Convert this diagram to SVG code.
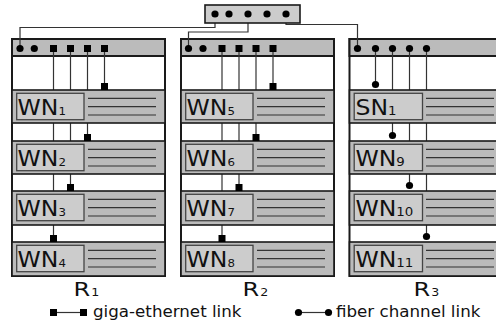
<svg xmlns="http://www.w3.org/2000/svg" width="496" height="324" viewBox="0 0 496 324">
<style>
.rack{fill:#fff;stroke:#1a1a1a;stroke-width:2}
.hdr{fill:#bbb;stroke:#1a1a1a;stroke-width:2}
.band{fill:#bbb;stroke:#1a1a1a;stroke-width:1.6}
.lbl{fill:#ccc;stroke:#444;stroke-width:1.3}
.ln{stroke:#333;stroke-width:1.2}
.wire{fill:none;stroke:#333;stroke-width:1.2}
.sq{fill:#000}
.dot{fill:#000}
.t{font-family:"DejaVu Sans",sans-serif;fill:#111}
.nm{font-size:22px}
.sub{font-size:11px}
.sub3{font-size:12.5px}
.rk{font-size:20px}
.rsub{font-size:10.5px}
.lg{font-size:16.7px}
.sw{fill:#ccc;stroke:#1a1a1a;stroke-width:1.6}
</style>
<defs>
<rect id="s" class="sq" x="-3.5" y="-3.5" width="7" height="7"/>
<circle id="c" class="dot" r="3.6"/>
<g id="lines"><line class="ln" x1="0" y1="8.3" x2="68" y2="8.3"/><line class="ln" x1="0" y1="16.7" x2="68" y2="16.7"/><line class="ln" x1="0" y1="25" x2="68" y2="25"/></g>
</defs>

<!-- rack frames -->
<g id="rack1"><rect class="rack" x="12" y="39" width="153" height="237"/><rect class="hdr" x="12" y="39" width="153" height="17"/></g>
<g id="rack2"><rect class="rack" x="181" y="39" width="153" height="237"/><rect class="hdr" x="181" y="39" width="153" height="17"/></g>
<g id="rack3"><rect class="rack" x="349.5" y="39" width="153" height="237"/><rect class="hdr" x="349.5" y="39" width="153" height="17"/></g>

<!-- connectors -->
<g id="connectors">
<polyline class="wire" points="215,14 215,27.5 20,27.5 20,48.5"/>
<polyline class="wire" points="248,14 248,32 188.5,32 188.5,48.5"/>
<polyline class="wire" points="286,14 286,24.5 357.5,24.5 357.5,48.5"/>
<line class="wire" x1="53.5" y1="48.5" x2="53.5" y2="238.5"/>
<line class="wire" x1="70.5" y1="48.5" x2="70.5" y2="187.5"/>
<line class="wire" x1="87.5" y1="48.5" x2="87.5" y2="137.5"/>
<line class="wire" x1="104.5" y1="48.5" x2="104.5" y2="86.5"/>
<line class="wire" x1="222" y1="48.5" x2="222" y2="238.5"/>
<line class="wire" x1="239" y1="48.5" x2="239" y2="187.5"/>
<line class="wire" x1="256" y1="48.5" x2="256" y2="137.5"/>
<line class="wire" x1="273" y1="48.5" x2="273" y2="86.5"/>
<line class="wire" x1="375.5" y1="48.5" x2="375.5" y2="84.5"/>
<line class="wire" x1="392.5" y1="48.5" x2="392.5" y2="135.5"/>
<line class="wire" x1="409.5" y1="48.5" x2="409.5" y2="185.5"/>
<line class="wire" x1="426.5" y1="48.5" x2="426.5" y2="236.5"/>
<line class="wire" x1="57" y1="312.5" x2="80" y2="312.5"/>
<line class="wire" x1="298.5" y1="312.5" x2="328.5" y2="312.5"/>
</g>

<!-- switch -->
<g id="switch">
<rect class="sw" x="205" y="5" width="95" height="18"/>
<use href="#c" x="215" y="14"/><use href="#c" x="229" y="14"/><use href="#c" x="248" y="14"/><use href="#c" x="267" y="14"/><use href="#c" x="286" y="14"/>
</g>

<!-- nodes rack 1 -->
<g id="WN1"><rect class="band" x="12" y="90" width="153" height="33"/><rect class="lbl" x="16.7" y="93.3" width="67.3" height="26.4"/><use href="#lines" x="88" y="90"/><text class="t nm" transform="translate(17.6,114.7) scale(1.07,1)">WN<tspan class="sub">1</tspan></text></g>
<g id="WN2"><rect class="band" x="12" y="141" width="153" height="33"/><rect class="lbl" x="16.7" y="144.3" width="67.3" height="26.4"/><use href="#lines" x="88" y="141"/><text class="t nm" transform="translate(17.6,165.7) scale(1.07,1)">WN<tspan class="sub">2</tspan></text></g>
<g id="WN3"><rect class="band" x="12" y="191" width="153" height="34"/><rect class="lbl" x="16.7" y="194.3" width="67.3" height="26.4"/><use href="#lines" x="88" y="191"/><text class="t nm" transform="translate(17.6,215.7) scale(1.07,1)">WN<tspan class="sub">3</tspan></text></g>
<g id="WN4"><rect class="band" x="12" y="242" width="153" height="34"/><rect class="lbl" x="16.7" y="245.3" width="67.3" height="26.4"/><use href="#lines" x="88" y="242"/><text class="t nm" transform="translate(17.6,266.7) scale(1.07,1)">WN<tspan class="sub">4</tspan></text></g>
<!-- nodes rack 2 -->
<g id="WN5"><rect class="band" x="181" y="90" width="153" height="33"/><rect class="lbl" x="185.7" y="93.3" width="67.3" height="26.4"/><use href="#lines" x="257" y="90"/><text class="t nm" transform="translate(186.6,114.7) scale(1.07,1)">WN<tspan class="sub">5</tspan></text></g>
<g id="WN6"><rect class="band" x="181" y="141" width="153" height="33"/><rect class="lbl" x="185.7" y="144.3" width="67.3" height="26.4"/><use href="#lines" x="257" y="141"/><text class="t nm" transform="translate(186.6,165.7) scale(1.07,1)">WN<tspan class="sub">6</tspan></text></g>
<g id="WN7"><rect class="band" x="181" y="191" width="153" height="34"/><rect class="lbl" x="185.7" y="194.3" width="67.3" height="26.4"/><use href="#lines" x="257" y="191"/><text class="t nm" transform="translate(186.6,215.7) scale(1.07,1)">WN<tspan class="sub">7</tspan></text></g>
<g id="WN8"><rect class="band" x="181" y="242" width="153" height="34"/><rect class="lbl" x="185.7" y="245.3" width="67.3" height="26.4"/><use href="#lines" x="257" y="242"/><text class="t nm" transform="translate(186.6,266.7) scale(1.07,1)">WN<tspan class="sub">8</tspan></text></g>
<!-- nodes rack 3 -->
<g id="SN1"><rect class="band" x="349.5" y="90" width="153" height="33"/><rect class="lbl" x="354.2" y="93.3" width="68.3" height="26.4"/><use href="#lines" x="426" y="90"/><text class="t nm" transform="translate(355.5,114.7) scale(1.07,1)">SN<tspan class="sub3">1</tspan></text></g>
<g id="WN9"><rect class="band" x="349.5" y="141" width="153" height="33"/><rect class="lbl" x="354.2" y="144.3" width="68.3" height="26.4"/><use href="#lines" x="426" y="141"/><text class="t nm" transform="translate(355.5,165.7) scale(1.07,1)">WN<tspan class="sub3">9</tspan></text></g>
<g id="WN10"><rect class="band" x="349.5" y="191" width="153" height="34"/><rect class="lbl" x="354.2" y="194.3" width="68.3" height="26.4"/><use href="#lines" x="426" y="191"/><text class="t nm" transform="translate(355.5,215.7) scale(1.07,1)">WN<tspan class="sub3">10</tspan></text></g>
<g id="WN11"><rect class="band" x="349.5" y="242" width="153" height="34"/><rect class="lbl" x="354.2" y="245.3" width="68.3" height="26.4"/><use href="#lines" x="426" y="242"/><text class="t nm" transform="translate(355.5,266.7) scale(1.07,1)">WN<tspan class="sub3">11</tspan></text></g>

<!-- port markers -->
<g id="ports">
<use href="#c" x="20" y="48.5"/><use href="#c" x="34.3" y="48.5"/>
<use href="#s" x="53.5" y="48.5"/><use href="#s" x="70.5" y="48.5"/><use href="#s" x="87.5" y="48.5"/><use href="#s" x="104.5" y="48.5"/>
<use href="#s" x="104.5" y="86.5"/><use href="#s" x="87.5" y="137.5"/><use href="#s" x="70.5" y="187.5"/><use href="#s" x="53.5" y="238.5"/>
<use href="#c" x="188.5" y="48.5"/><use href="#c" x="203" y="48.5"/>
<use href="#s" x="222" y="48.5"/><use href="#s" x="239" y="48.5"/><use href="#s" x="256" y="48.5"/><use href="#s" x="273" y="48.5"/>
<use href="#s" x="273" y="86.5"/><use href="#s" x="256" y="137.5"/><use href="#s" x="239" y="187.5"/><use href="#s" x="222" y="238.5"/>
<use href="#c" x="357.5" y="48.5"/><use href="#c" x="375.5" y="48.5"/><use href="#c" x="392.5" y="48.5"/><use href="#c" x="409.5" y="48.5"/><use href="#c" x="426.5" y="48.5"/>
<use href="#c" x="375.5" y="84.5"/><use href="#c" x="392.5" y="135.5"/><use href="#c" x="409.5" y="185.5"/><use href="#c" x="426.5" y="236.5"/>
</g>

<!-- rack labels -->
<text class="t rk" transform="translate(73.5,296) scale(1.2,1)">R<tspan class="rsub" dx="1">1</tspan></text>
<text class="t rk" transform="translate(242.5,296) scale(1.2,1)">R<tspan class="rsub" dx="1">2</tspan></text>
<text class="t rk" transform="translate(413.5,296) scale(1.2,1)">R<tspan class="rsub" dx="1">3</tspan></text>

<!-- legend -->
<g id="legend">
<use href="#s" x="53.5" y="312.5"/><use href="#s" x="83.5" y="312.5"/>
<text class="t lg" x="93" y="317">giga-ethernet link</text>
<use href="#c" x="298.5" y="312.5"/><use href="#c" x="328.5" y="312.5"/>
<text class="t lg" x="336" y="317">fiber channel link</text>
</g>
</svg>
